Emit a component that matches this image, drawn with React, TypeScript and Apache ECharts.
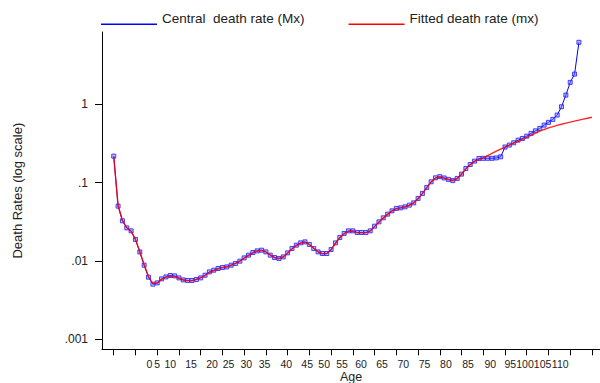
import React, { useEffect, useRef } from "react";
import * as echarts from "echarts";

// Observed central death rates Mx, ages 0..107
const OBSERVED_MX = [
  0.218, 0.0501, 0.0325, 0.0264, 0.0242, 0.0188, 0.013, 0.00881, 0.00619, 0.00504,
  0.00523, 0.00589, 0.00624, 0.0065, 0.00643, 0.00606, 0.00571, 0.00562, 0.00562, 0.00578,
  0.00606, 0.00656, 0.00723, 0.0076, 0.00799, 0.00823, 0.00838, 0.00881, 0.00926, 0.00991,
  0.01092, 0.01183, 0.0128, 0.01342, 0.0137, 0.01303, 0.01183, 0.01105, 0.01073, 0.01125,
  0.01266, 0.01441, 0.01588, 0.01699, 0.0175, 0.01621, 0.01441, 0.01303, 0.01243, 0.01243,
  0.01399, 0.01699, 0.01992, 0.02241, 0.0242, 0.0242, 0.02307, 0.02307, 0.02307, 0.0242,
  0.02778, 0.03153, 0.03548, 0.03956, 0.04359, 0.04679, 0.04762, 0.04904, 0.05157, 0.05516,
  0.06281, 0.07276, 0.08682, 0.1024, 0.1152, 0.1193, 0.1148, 0.1099, 0.1061, 0.1132,
  0.1284, 0.1515, 0.1704, 0.1883, 0.2033, 0.2045, 0.2045, 0.2045, 0.207, 0.2137,
  0.2852, 0.302, 0.323, 0.349, 0.367, 0.393, 0.426, 0.459, 0.493, 0.543,
  0.589, 0.643, 0.73, 0.932, 1.315, 1.91, 2.44, 6.21,
];

// Fitted death rates mx, ages 0..110
const FITTED_MX = [
  0.215, 0.051, 0.033, 0.0265, 0.0238, 0.0188, 0.0131, 0.0089, 0.0063, 0.0051,
  0.0052, 0.0058, 0.0062, 0.0064, 0.0063, 0.006, 0.0057, 0.0056, 0.0056, 0.0058,
  0.0061, 0.0065, 0.0071, 0.0075, 0.0079, 0.0082, 0.0084, 0.0088, 0.0093, 0.0099,
  0.0108, 0.0117, 0.0127, 0.0134, 0.0136, 0.013, 0.0119, 0.011, 0.0107, 0.0112,
  0.0125, 0.0142, 0.0157, 0.0169, 0.0173, 0.0162, 0.0145, 0.0131, 0.0123, 0.0124,
  0.0138, 0.0167, 0.0197, 0.0222, 0.0238, 0.0239, 0.023, 0.0228, 0.023, 0.024,
  0.0274, 0.0312, 0.0352, 0.0393, 0.0432, 0.0462, 0.0475, 0.0488, 0.0512, 0.055,
  0.0622, 0.0723, 0.0862, 0.1015, 0.114, 0.118, 0.114, 0.1095, 0.1065, 0.1125,
  0.127, 0.15, 0.169, 0.187, 0.198, 0.207, 0.221, 0.236, 0.252, 0.268,
  0.285, 0.301, 0.319, 0.338, 0.358, 0.38, 0.405, 0.43, 0.455, 0.478,
  0.5, 0.52, 0.54, 0.558, 0.576, 0.594, 0.612, 0.63, 0.648, 0.666,
  0.684,
];

// Age axis ticks and their labels
const AGE_TICKS = [0, 5, 10, 15, 20, 25, 30, 35, 40, 45, 50, 55, 60, 65, 70, 75, 80, 85, 90, 95, 100, 105, 110];
const AGE_TICK_LABELS = AGE_TICKS.map(String);
// Where each age label sits along the age scale
const AGE_LABEL_ANCHORS = [
  8.2, 10.0, 13.0, 17.8, 22.6, 26.4, 30.5, 34.7, 39.7, 44.5, 48.4, 52.5,
  56.9, 61.7, 66.6, 71.5, 76.4, 81.5, 86.6, 91.2, 94.6, 98.65, 102.7,
];

// Rate axis (log scale) ticks and labels
const RATE_TICKS = [0.001, 0.01, 0.1, 1];
const RATE_TICK_LABELS = [".001", ".01", ".1", "1"];

const SERIES_OBSERVED = "Central  death rate (Mx)";
const SERIES_FITTED = "Fitted death rate (mx)";

const FONT = "'Liberation Sans', Arial, Helvetica, sans-serif";
const AGE_MIN = -2.7;
const AGE_MAX = 111.85;
const LOG_MIN = -3.13;
const LOG_MAX = 0.925;

// Thin line drawn along the bottom of the legend item box
const LEGEND_ICON = "path://M0,0 L0.01,0 L0.01,0.01 Z M0,12.6 L56,12.6 L56,14 L0,14 Z";

function nearestIndex(list: number[], v: number): number {
  let best = 0;
  for (let i = 1; i < list.length; i++) {
    if (Math.abs(list[i] - v) < Math.abs(list[best] - v)) best = i;
  }
  return best;
}

export default function App() {
  const ref = useRef<HTMLDivElement>(null);

  useEffect(() => {
    if (!ref.current) return;
    const chart = echarts.init(ref.current, undefined, { renderer: "svg" });
    const logTicks = RATE_TICKS.map((v) => Math.log10(v));

    chart.setOption({
      animation: false,
      backgroundColor: "#ffffff",
      textStyle: { fontFamily: FONT },
      legend: {
        left: 101,
        top: 11,
        padding: 0,
        itemWidth: 56,
        itemHeight: 14,
        itemGap: 44,
        selectedMode: false,
        textStyle: { fontSize: 13.5, color: "#222", fontFamily: FONT },
        data: [
          { name: SERIES_OBSERVED, icon: LEGEND_ICON, itemStyle: { color: "#0000ff", borderWidth: 0 } },
          { name: SERIES_FITTED, icon: LEGEND_ICON, itemStyle: { color: "#ff0000", borderWidth: 0 } },
        ],
      },
      grid: {
        left: 102,
        right: 0,
        top: 32,
        bottom: 33.7,
        containLabel: false,
        outerBoundsMode: "none",
      },
      xAxis: [
        {
          type: "value",
          min: AGE_MIN,
          max: AGE_MAX,
          name: "Age",
          nameLocation: "middle",
          nameGap: 21,
          nameTextStyle: { fontSize: 12.5, color: "#222", fontFamily: FONT },
          axisLine: { show: true, onZero: false, lineStyle: { color: "#000", width: 1 } },
          axisTick: {
            show: true,
            customValues: AGE_TICKS,
            length: 6,
            lineStyle: { color: "#000", width: 1 },
          },
          axisLabel: { show: false },
          splitLine: { show: false },
        },
        {
          type: "value",
          min: AGE_MIN,
          max: AGE_MAX,
          position: "bottom",
          offset: 0,
          axisLine: { show: false, onZero: false },
          axisTick: { show: false },
          splitLine: { show: false },
          axisLabel: {
            show: true,
            customValues: AGE_LABEL_ANCHORS,
            showMinLabel: true,
            showMaxLabel: true,
            hideOverlap: false,
            margin: 9,
            fontSize: 10.5,
            color: "#222",
            fontFamily: FONT,
            formatter: (v: number) => AGE_TICK_LABELS[nearestIndex(AGE_LABEL_ANCHORS, v)],
          },
        },
      ],
      yAxis: {
        type: "value",
        min: LOG_MIN,
        max: LOG_MAX,
        name: "Death Rates (log scale)",
        nameLocation: "middle",
        nameGap: 78,
        nameTextStyle: { fontSize: 13, color: "#222", fontFamily: FONT },
        axisLine: { show: true, onZero: false, lineStyle: { color: "#000", width: 1 } },
        axisTick: {
          show: true,
          customValues: logTicks,
          length: 7,
          lineStyle: { color: "#000", width: 1 },
        },
        axisLabel: {
          show: true,
          customValues: logTicks,
          showMinLabel: true,
          showMaxLabel: true,
          margin: 14,
          fontSize: 12,
          color: "#222",
          fontFamily: FONT,
          formatter: (v: number) => RATE_TICK_LABELS[nearestIndex(logTicks, v)],
        },
        splitLine: { show: false },
      },
      series: [
        {
          name: SERIES_OBSERVED,
          type: "line",
          xAxisIndex: 0,
          data: OBSERVED_MX.map((v, age) => [age, Math.log10(v)]),
          color: "#0000ff",
          lineStyle: { color: "#0000ff", width: 1 },
          symbol: "rect",
          symbolSize: 4,
          showSymbol: true,
          itemStyle: { color: "rgba(110,110,255,0.45)", borderColor: "#1a1aff", borderWidth: 0.8 },
          z: 2,
        },
        {
          name: SERIES_FITTED,
          type: "line",
          xAxisIndex: 0,
          data: FITTED_MX.map((v, age) => [age, Math.log10(v)]),
          color: "#ff0000",
          lineStyle: { color: "rgba(255,0,0,0.85)", width: 1.4 },
          symbol: "none",
          showSymbol: false,
          z: 3,
        },
      ],
    });

    return () => chart.dispose();
  }, []);

  return (
    <div
      ref={ref}
      style={{ position: "fixed", left: 0, top: 0, width: 600, height: 383, background: "#fff" }}
    />
  );
}
